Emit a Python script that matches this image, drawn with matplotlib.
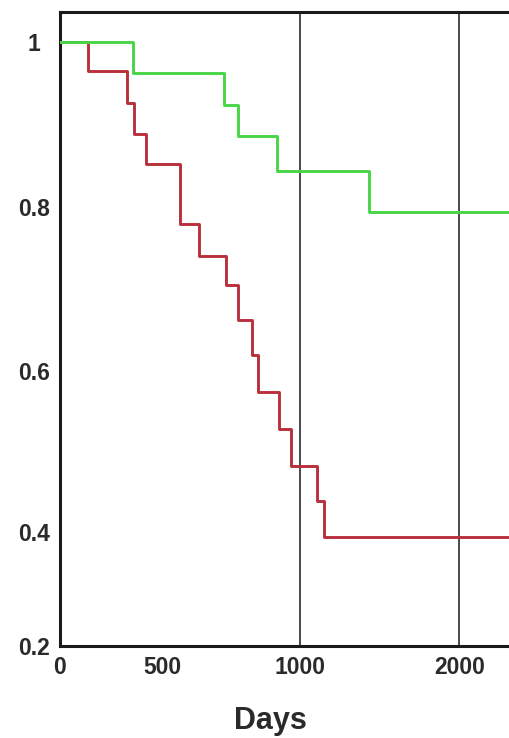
import numpy as np
import matplotlib
matplotlib.use("Agg")
import matplotlib.pyplot as plt

# ---- data (survival step curves) ----
red_days = [0, 136, 327, 363, 420, 565, 634, 732, 774, 825, 849, 924, 967, 1105, 1150]
red_surv = [1.0, 0.965, 0.926, 0.889, 0.852, 0.779, 0.740, 0.705, 0.662, 0.619,
            0.574, 0.528, 0.482, 0.438, 0.391]
green_days = [0, 358, 725, 775, 916, 1433]
green_surv = [1.0, 0.963, 0.924, 0.886, 0.844, 0.794]
x_end = 2317

x_ticks = [0, 500, 1000, 2000]
x_ticklabels = ["0", "500", "1000", "2000"]
y_ticks = [0.2, 0.4, 0.6, 0.8, 1.0]
y_ticklabels = ["0.2", "0.4", "0.6", "0.8", "1"]
ref_lines = [1000, 2000]

# ---- axis calibration of the (non-uniform) reference axes ----
X_CAL = np.array([0, 500, 1000, 2000, 3000])
X_POS = np.array([0, 102, 240, 399.5, 559])
Y_CAL = np.array([0.2, 0.4, 0.6, 0.8, 1.0, 1.2])
Y_POS = np.array([0, 114, 275, 439, 604, 769])

def xf(v):
    return np.interp(v, X_CAL, X_POS)
def xi(p):
    return np.interp(p, X_POS, X_CAL)
def yf(v):
    return np.interp(v, Y_CAL, Y_POS)
def yi(p):
    return np.interp(p, Y_POS, Y_CAL)

plt.rcParams['font.family'] = ['Liberation Sans', 'DejaVu Sans']

W, H = 510, 738
fig = plt.figure(figsize=(W / 100, H / 100), dpi=100)
ax = fig.add_axes([60 / W, (H - 646) / H, (W - 60) / W, (646 - 12) / H])

ax.set_xscale('function', functions=(xf, xi))
ax.set_yscale('function', functions=(yf, yi))

for xv in ref_lines:
    ax.axvline(xv, color='#3a3a3a', lw=1.3, zorder=1)

rx = red_days + [x_end]
ry = red_surv + [red_surv[-1]]
gx = green_days + [x_end]
gy = green_surv + [green_surv[-1]]
ax.step(rx, ry, where='post', color='#b8303c', lw=2.1, zorder=3)
ax.step(gx, gy, where='post', color='#48d648', lw=2.1, zorder=4)

ax.set_xlim(0, x_end)
ax.set_ylim(0.2, 1.0364)

ax.set_xticks(x_ticks)
ax.set_xticklabels(x_ticklabels)
ax.set_yticks(y_ticks)
ax.set_yticklabels(y_ticklabels)
ax.minorticks_off()
ax.tick_params(axis='both', length=0, labelsize=16.5, labelcolor='#2a2a2a')
ax.tick_params(axis='x', pad=7.5)
ax.tick_params(axis='y', pad=19)
for lbl in ax.get_xticklabels() + ax.get_yticklabels():
    lbl.set_fontweight('bold')
for lbl in ax.get_yticklabels():
    lbl.set_horizontalalignment('center')

for s in ['left', 'top', 'bottom']:
    ax.spines[s].set_linewidth(2.2)
    ax.spines[s].set_color('#1a1a1a')
ax.spines['right'].set_visible(False)

fig.text(270.5 / W, (H - 729) / H, "Days", ha='center', va='baseline',
         fontsize=22, fontweight='bold', color='#2a2a2a')

fig.savefig("out.png", dpi=100)
